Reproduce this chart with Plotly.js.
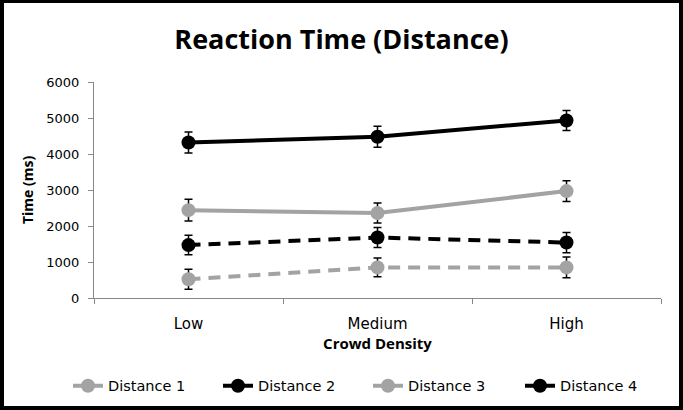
<!DOCTYPE html>
<html><head><meta charset="utf-8">
<script src="https://cdn.plot.ly/plotly-3.0.1.min.js"></script>
<style>
html,body{margin:0;padding:0;background:#fff;}
#wrap{width:683px;height:410px;background:#000;position:relative;overflow:hidden;}
#chart{position:absolute;left:4px;top:3px;width:675px;height:403px;background:#fff;}
</style></head>
<body>
<div id="wrap"><div id="chart"></div></div>
<script>
const categories = ["Low", "Medium", "High"];
const seriesNames = ["Distance 1", "Distance 2", "Distance 3", "Distance 4"];
const distance1 = [520, 850, 850];
const distance2 = [1470, 1680, 1540];
const distance3 = [2440, 2360, 2970];
const distance4 = [4320, 4480, 4930];
const err1 = [280, 260, 290];
const err2 = [270, 280, 280];
const err3 = [300, 280, 290];
const err4 = [290, 290, 280];

const gray = "#a3a3a3";
const styles = [
  {color: gray, dash: "12px,8px"},
  {color: "#000", dash: "12px,8px"},
  {color: gray, dash: "solid"},
  {color: "#000", dash: "solid"}
];
const values = [distance1, distance2, distance3, distance4];
const errs = [err1, err2, err3, err4];
const legendIds = ["legend", "legend2", "legend3", "legend4"];

const traces = values.map((v, i) => ({
  type: "scatter", mode: "lines+markers",
  x: categories, y: v, name: seriesNames[i], legend: legendIds[i],
  line: {color: styles[i].color, width: 4, dash: styles[i].dash},
  marker: {color: styles[i].color, size: 14, symbol: "circle"},
  error_y: {type: "data", array: errs[i], visible: true, color: "#000", thickness: 1.5, width: 4}
}));

const legendLefts = [64, 214, 364, 516];
function legendAt(px) {
  return {
    orientation: "h", xref: "container", yref: "container",
    x: px / 675, xanchor: "left", y: 0.05, yanchor: "middle",
    font: {family: "DejaVu Sans, sans-serif", size: 14.5, color: "#000"},
    bgcolor: "rgba(0,0,0,0)"
  };
}

const layout = {
  width: 675, height: 403,
  margin: {l: 90, r: 18, t: 79, b: 108, autoexpand: false},
  paper_bgcolor: "#fff", plot_bgcolor: "#fff",
  showlegend: true,
  title: {text: "<b>Reaction Time (Distance)</b>", x: 0.5, xanchor: "center", y: 0.91, yanchor: "middle",
          font: {family: "Open Sans, sans-serif", size: 27, color: "#000"}},
  xaxis: {
    type: "category", range: [-0.5, 2.5], tickson: "boundaries", ticks: "outside", ticklen: 5, tickcolor: "#888",
    ticklabelstandoff: 12,
    showline: true, linecolor: "#888", linewidth: 1, showgrid: false, zeroline: false,
    tickfont: {family: "DejaVu Sans, sans-serif", size: 15, color: "#000"},
    title: {text: "<b>Crowd Density</b>", font: {family: "Open Sans, sans-serif", size: 15, color: "#000"}, standoff: 5}
  },
  yaxis: {
    range: [0, 6000], dtick: 1000, ticks: "outside", ticklen: 5, tickcolor: "#888",
    ticklabelstandoff: 6,
    showline: true, linecolor: "#888", linewidth: 1, showgrid: false, zeroline: false,
    tickfont: {family: "DejaVu Sans, sans-serif", size: 13, color: "#000"},
    title: {text: "<b>Time (ms)</b>", font: {family: "Open Sans, sans-serif", size: 14, color: "#000"}, standoff: 9}
  },
  legend: legendAt(legendLefts[0]),
  legend2: legendAt(legendLefts[1]),
  legend3: legendAt(legendLefts[2]),
  legend4: legendAt(legendLefts[3])
};
Plotly.newPlot("chart", traces, layout, {displayModeBar: false, staticPlot: true});
</script>
</body></html>
